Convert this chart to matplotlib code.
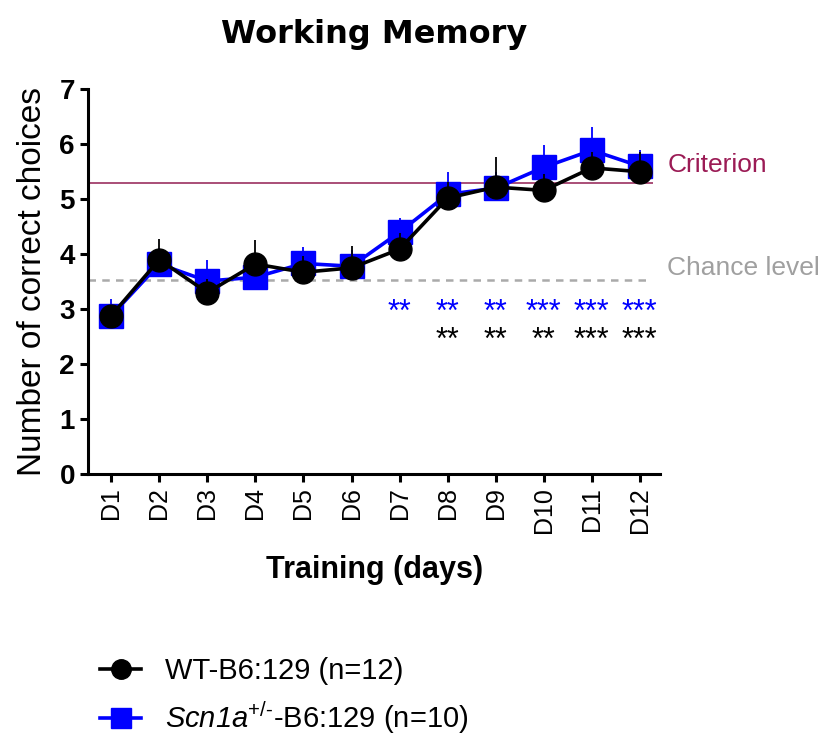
import matplotlib
matplotlib.use("Agg")
import matplotlib.pyplot as plt
import numpy as np

plt.rcParams['font.family'] = ['Liberation Sans', 'DejaVu Sans']
plt.rcParams['mathtext.fontset'] = 'custom'
plt.rcParams['mathtext.rm'] = 'Liberation Sans'
plt.rcParams['mathtext.it'] = 'Liberation Sans:italic'
plt.rcParams['mathtext.sf'] = 'Liberation Sans:italic'
plt.rcParams['axes.linewidth'] = 2.2
plt.rcParams['xtick.major.size'] = 6
plt.rcParams['xtick.major.width'] = 2.2
plt.rcParams['ytick.major.size'] = 6
plt.rcParams['ytick.major.width'] = 2.2

# data
days = ['D1', 'D2', 'D3', 'D4', 'D5', 'D6', 'D7', 'D8', 'D9', 'D10', 'D11', 'D12']
wt_mean = [2.88, 3.9, 3.3, 3.82, 3.67, 3.75, 4.09, 5.02, 5.22, 5.16, 5.57, 5.5]
wt_err = [0.2, 0.38, 0.25, 0.44, 0.3, 0.4, 0.3, 0.3, 0.55, 0.3, 0.28, 0.35]
scn_mean = [2.88, 3.82, 3.51, 3.58, 3.83, 3.78, 4.4, 5.09, 5.2, 5.58, 5.89, 5.6]
scn_err = [0.3, 0.3, 0.38, 0.3, 0.3, 0.3, 0.25, 0.4, 0.3, 0.4, 0.42, 0.3]
criterion = 5.3
chance = 3.53
scn_stars = ['', '', '', '', '', '', '**', '**', '**', '***', '***', '***']
wt_stars = ['', '', '', '', '', '', '', '**', '**', '**', '***', '***']

blue = '#0000ff'
x = np.arange(1, len(days) + 1)

fig = plt.figure(figsize=(8.24, 7.44), dpi=100)
ax = fig.add_axes([0.107, 0.363, 0.694, 0.517])

# blue group first, black drawn on top
ax.errorbar(x, scn_mean, yerr=[np.zeros(len(x)), scn_err], fmt='none', ecolor=blue,
            elinewidth=1.3, capsize=0, zorder=3)
ax.plot(x, scn_mean, color=blue, lw=2.6, marker='s', ms=17, mfc=blue, mec=blue,
        zorder=4, label=r'$\mathsf{Scn1a}^{+/\text{-}}$-B6:129 (n=10)')
ax.plot(x, wt_mean, color='black', lw=2.6, marker='o', ms=16.5, mfc='black', mec='black',
        zorder=5, label='WT-B6:129 (n=12)')
ax.errorbar(x, wt_mean, yerr=[np.zeros(len(x)), wt_err], fmt='none', ecolor='black',
            elinewidth=1.3, capsize=0, zorder=6)

ax.set_xlim(0.52, 12.42)
ax.set_ylim(0, 7)

# reference lines
ax.hlines(criterion, 0.52, 12.27, color='#9b3060', lw=1.2, zorder=2)
ax.hlines(chance, 0.52, 12.2, color='#aaaaaa', lw=1.8, linestyles=(0, (3, 2.5)), zorder=2)
ax.text(12.57, criterion + 0.32, 'Criterion', color='#9b1b55', fontsize=19, va='center')
ax.text(12.57, chance + 0.22, 'Chance level', color='#a0a0a0', fontsize=19, va='center')

# significance stars
for xi, s in zip(x, scn_stars):
    ax.text(xi, 2.93, s, color=blue, fontsize=22, ha='center', va='center')
for xi, s in zip(x, wt_stars):
    ax.text(xi, 2.42, s, color='black', fontsize=22, ha='center', va='center')

ax.spines['top'].set_visible(False)
ax.spines['right'].set_visible(False)
ax.set_xticks(x)
ax.set_xticklabels(days, rotation=90, fontsize=18)
ax.set_yticks(range(0, 8))
ax.set_yticklabels([str(i) for i in range(0, 8)], fontsize=20, fontweight='bold')

ax.set_title('Working Memory', fontsize=23, fontweight='bold', family='DejaVu Sans', pad=33)
ax.set_ylabel('Number of correct choices', fontsize=24, labelpad=8)
ax.set_xlabel('Training (days)', fontsize=22, fontweight='bold', labelpad=16)

handles, labels = ax.get_legend_handles_labels()
fig.legend(handles[::-1], labels[::-1], loc='center left', bbox_to_anchor=(0.09, 0.064),
           frameon=False, fontsize=21, handlelength=1.4, handletextpad=0.8,
           labelspacing=0.5, markerscale=0.85)

fig.savefig('out.png', dpi=100)
